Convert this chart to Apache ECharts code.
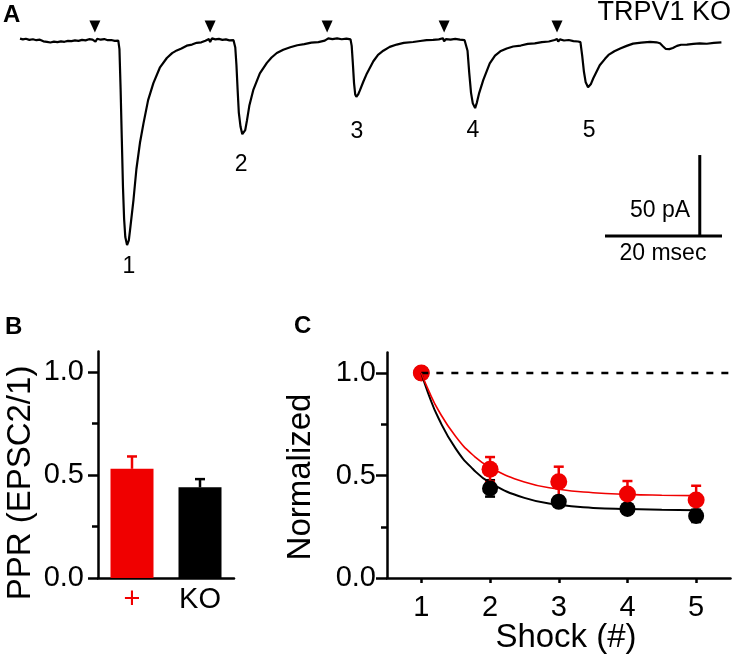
<!DOCTYPE html>
<html><head><meta charset="utf-8">
<script src="https://cdn.jsdelivr.net/npm/echarts@6/dist/echarts.min.js"></script>
<style>html,body{margin:0;padding:0;background:#fff}#c{width:734px;height:661px}</style>
</head><body><div id="c"></div>
<script>
// ---------- Panel A: EPSC trace (time in ms, current in pA) ----------
const trace = [
 [0,1.5],[0.5,1.0],[1.0,1.4],[1.6,0.7],[2.2,1.1],[2.8,0.5],[3.4,0.8],[4.0,-0.2],[4.6,-0.5],[5.2,-0.9],[5.8,-0.4],[6.4,-0.7],[7.0,-0.2],[7.6,-0.5],[8.2,0.1],[8.8,-0.1],[9.4,0.4],[10.0,0.1],[10.6,0.7],[11.2,0.4],[11.8,1.1],[12.4,0.9],[12.7,1.6],[12.9,-0.4],[13.2,1.4],[13.8,0.8],[14.4,1.2],[15.0,0.5],[15.6,0.6],[16.2,0.1],[16.8,0.2],
 [17.0,-5],[17.2,-30],[17.4,-60],[17.6,-90],[17.8,-110],[18.0,-121],[18.3,-126],[18.6,-123],[18.8,-117],[19.4,-98],[19.9,-79],[20.5,-63],[21.1,-51],[21.9,-36.5],[22.8,-26],[23.9,-16.5],[25.1,-10.5],[26.0,-7.5],[26.8,-5.8],[27.6,-4.6],[28.5,-2.9],[29.4,-2.2],[30.2,-1.1],[31.0,-0.8],[31.7,0.2],[32.3,1.2],[32.5,-0.6],[32.8,1.6],[33.4,1.0],[34.0,1.3],[34.6,0.7],[35.2,1.0],[35.8,0.4],[36.5,0.5],
 [36.8,-4],[37.0,-15],[37.2,-30],[37.4,-44],[37.7,-53],[38.0,-57.5],[38.2,-58.5],[38.5,-55],[38.8,-49],[39.2,-40],[39.9,-30],[41.0,-20],[42.2,-13.5],[43.0,-10.2],[43.9,-7.4],[45.0,-5.4],[46.2,-3.9],[47.4,-2.6],[48.6,-1.9],[49.8,-1.0],[51.0,-0.7],[52.1,0.2],[52.4,-1.0],[52.7,1.6],[53.4,1.2],[54.2,1.6],[55.0,1.1],[55.8,1.5],[56.5,1.0],
 [56.7,-3],[56.9,-14],[57.1,-26],[57.3,-33],[57.5,-34.5],[57.8,-33],[58.1,-30.5],[58.7,-25],[59.3,-20],[60.4,-12.5],[61.2,-8.5],[62.1,-6],[63.2,-3.6],[64.4,-2.2],[65.6,-1.2],[67.2,-0.6],[68.4,0.0],[69.5,0.5],[70.6,0.7],[71.6,1.0],[72.3,1.7],[72.5,-0.2],[72.8,1.2],[73.6,0.9],[74.4,1.3],[75.2,0.8],[76.0,0.5],[76.3,0.0],
 [76.5,-6],[76.8,-20],[77.1,-32],[77.4,-38.5],[77.8,-41.4],[78.1,-38],[78.5,-32],[79.2,-24],[80.3,-13.8],[81.2,-9],[82.1,-6.4],[83.2,-4.6],[84.3,-3.4],[85.6,-2.8],[86.8,-1.8],[88.0,-1.5],[89.2,-0.7],[90.4,-0.3],[91.4,0.6],[91.8,1.2],[92.0,-0.4],[92.3,1.0],[93.0,0.3],[93.8,0.6],[94.6,-0.1],[95.4,-0.3],[95.8,-0.7],
 [96.1,-9],[96.4,-19],[96.7,-25.5],[97.1,-28.5],[97.6,-26.5],[98.0,-23],[99.1,-15],[100.0,-11],[100.6,-8.6],[101.6,-6.3],[102.6,-4.6],[103.7,-3.0],[104.8,-1.6],[106.2,-1.0],[107.7,-0.5],[108.8,-0.8],[109.4,-1.4],[109.9,-3.2],[110.4,-4.9],[111.0,-5.0],[111.6,-4.3],[112.3,-3.0],[113.0,-2.3],[114.0,-2.2],[115.1,-1.8],[116.2,-1.5],[117.4,-1.7],[118.6,-1.2],[119.9,-0.9]
];
const stimTimes = [12.8, 32.5, 52.5, 72.5, 91.8];
const stimMarkLevel = 9.0;
const peakNames = ['1','2','3','4','5'];
const peakLabelPos = [[18.6,-139],[37.8,-76.5],[57.6,-56],[77.4,-55.5],[97.3,-55.5]];
const scaleBarOrigin = [100, -120.4];   // left end of the time bar
const scaleBarTime = 20;                // ms
const scaleBarCurrent = 50;             // pA
const scaleBarVertT = 116.2;
const scaleLabels = [['50 pA',[109.4,-104.6]],['20 msec',[109.9,-131.5]]];

// ---------- Panel B: PPR bars ----------
const pprCategories = ['+','KO'];
const pprMean = [0.53, 0.44];
const pprSem = [0.06, 0.04];
const pprTicks = [0, 0.5, 1.0];
const pprMinorTicks = [0.25, 0.75];

// ---------- Panel C: normalized EPSC vs shock ----------
const shocks = [1,2,3,4,5];
const wtMean = [1.0, 0.53, 0.47, 0.41, 0.38];
const wtSem  = [0, 0.06, 0.073, 0.063, 0.07];
const koMean = [1.0, 0.437, 0.372, 0.337, 0.303];
const koSem  = [0, 0.04, 0.02, 0.02, 0.03];
const fitX  = [1, 1.1, 1.25, 1.5, 1.75, 2, 2.5, 3, 3.5, 4, 4.5, 5];
const wtFit = [1.0, 0.919, 0.817, 0.69, 0.60, 0.54, 0.468, 0.433, 0.416, 0.408, 0.404, 0.402];
const koFit = [1.0, 0.901, 0.779, 0.631, 0.532, 0.465, 0.391, 0.357, 0.342, 0.336, 0.333, 0.331];
const normTicks = [0, 0.5, 1.0];
const normMinorTicks = [0.25, 0.75];

const RED = '#f00000';
const F = "'Liberation Sans', Arial, Helvetica, sans-serif";
const AX = {color:'#000', width:2.5};

function errRender(color, capHalf, twoSided) {
  return function (params, api) {
    const x = api.value(0), m = api.value(1), s = api.value(2);
    const top = api.coord([x, m + s]);
    const bot = api.coord([x, twoSided ? m - s : m]);
    const st = {stroke: color, lineWidth: 2.5};
    const ch = [
      {type:'line', shape:{x1:top[0], y1:top[1], x2:bot[0], y2:bot[1]}, style:st},
      {type:'line', shape:{x1:top[0]-capHalf, y1:top[1], x2:top[0]+capHalf, y2:top[1]}, style:st}
    ];
    if (twoSided) ch.push({type:'line', shape:{x1:bot[0]-capHalf, y1:bot[1], x2:bot[0]+capHalf, y2:bot[1]}, style:st});
    return {type:'group', children: ch};
  };
}

const chart = echarts.init(document.getElementById('c'), null, {renderer:'canvas'});
const option = {
  animation:false,
  backgroundColor:'#fff',
  grid:[
    {left:20, top:8.6, width:702, height:275.4},
    {left:98, top:351.4, width:136, height:226.6},
    {left:387, top:352.5, width:343.5, height:225.5}
  ],
  xAxis:[
    {gridIndex:0, type:'value', min:0, max:120, show:false},
    {gridIndex:1, type:'category',
     data: pprCategories.map((c,i)=> i===0 ? {value:c, textStyle:{color:RED}} : c),
     axisLine:{lineStyle:AX}, axisTick:{show:false},
     axisLabel:{fontSize:29, fontFamily:F, color:'#000', margin:7}},
    {gridIndex:2, type:'value', min:0.5, max:5.5, splitLine:{show:false},
     axisLine:{onZero:false, lineStyle:AX},
     axisTick:{customValues:shocks, length:5, lineStyle:AX},
     axisLabel:{customValues:shocks, fontSize:29, fontFamily:F, color:'#000', margin:15}}
  ],
  yAxis:[
    {gridIndex:0, type:'value', min:-150, max:20, show:false},
    {gridIndex:1, type:'value', min:0, max:1.1, position:'left', splitLine:{show:false},
     axisLine:{show:true, lineStyle:AX},
     axisTick:{show:true, customValues:pprTicks, length:10, lineStyle:AX},
     axisLabel:{customValues:pprTicks, fontSize:29, fontFamily:F, color:'#000', margin:14, formatter:v=>v.toFixed(1)}},
    {gridIndex:1, type:'value', min:0, max:1.1, position:'left', offset:0, splitLine:{show:false},
     axisLine:{show:false},
     axisTick:{show:true, customValues:pprMinorTicks, length:6, lineStyle:AX},
     axisLabel:{show:false}},
    {gridIndex:2, type:'value', min:0, max:1.1, position:'left', splitLine:{show:false},
     axisLine:{show:true, lineStyle:AX},
     axisTick:{show:true, customValues:normTicks, length:11, lineStyle:AX},
     axisLabel:{customValues:normTicks, fontSize:29, fontFamily:F, color:'#000', margin:11, formatter:v=>v.toFixed(1)}},
    {gridIndex:2, type:'value', min:0, max:1.1, position:'left', offset:0, splitLine:{show:false},
     axisLine:{show:false},
     axisTick:{show:true, customValues:normMinorTicks, length:6, lineStyle:AX},
     axisLabel:{show:false}}
  ],
  series:[
    // Panel A
    {type:'line', xAxisIndex:0, yAxisIndex:0, data:trace, showSymbol:false, symbol:'none',
     lineStyle:{color:'#000', width:2.2}, clip:false},
    {type:'scatter', xAxisIndex:0, yAxisIndex:0, data:stimTimes.map(t=>[t, stimMarkLevel]),
     symbol:'triangle', symbolRotate:180, symbolSize:[11,12], itemStyle:{color:'#000', opacity:1}},
    {type:'line', xAxisIndex:0, yAxisIndex:0, symbol:'none', clip:false,
     data:[scaleBarOrigin, [scaleBarOrigin[0]+scaleBarTime, scaleBarOrigin[1]]],
     lineStyle:{color:'#000', width:3, cap:'butt'}},
    {type:'line', xAxisIndex:0, yAxisIndex:0, symbol:'none', clip:false,
     data:[[scaleBarVertT, scaleBarOrigin[1]], [scaleBarVertT, scaleBarOrigin[1]+scaleBarCurrent]],
     lineStyle:{color:'#000', width:3, cap:'butt'}},
    {type:'scatter', xAxisIndex:0, yAxisIndex:0, clip:false, symbolSize:1, itemStyle:{color:'rgba(0,0,0,0)', opacity:1},
     data: peakLabelPos.map((p,i)=>({value:p, name:peakNames[i]})).concat(scaleLabels.map(s=>({value:s[1], name:s[0]}))),
     label:{show:true, position:'inside', formatter:p=>p.name, color:'#000', opacity:1, fontFamily:F,
            fontSize:23, align:'center', verticalAlign:'middle', textBorderWidth:0}},
    // Panel B
    {type:'bar', xAxisIndex:1, yAxisIndex:1, barWidth:43,
     data: pprMean.map((v,i)=>({value:v, itemStyle:{color: i===0 ? RED : '#000'}}))},
    {type:'custom', xAxisIndex:1, yAxisIndex:1, data: pprMean.map((v,i)=>[i, v, pprSem[i]]),
     renderItem: function(params, api){ return errRender(params.dataIndex===0 ? RED : '#000', 5, false)(params, api); }},
    // Panel C
    {type:'line', xAxisIndex:2, yAxisIndex:3, symbol:'none', data:[[1,1],[5.5,1]],
     lineStyle:{color:'#000', width:2.5, type:[7,8]}},
    {type:'line', xAxisIndex:2, yAxisIndex:3, symbol:'none', smooth:true, data: fitX.map((x,i)=>[x, koFit[i]]),
     lineStyle:{color:'#000', width:2}},
    {type:'custom', xAxisIndex:2, yAxisIndex:3, data: shocks.map((s,i)=>[s, koMean[i], koSem[i]]).filter(d=>d[2]>0),
     renderItem: errRender('#000', 5, true)},
    {type:'scatter', xAxisIndex:2, yAxisIndex:3, data: shocks.map((s,i)=>[s, koMean[i]]), symbolSize:16,
     itemStyle:{color:'#000', opacity:1}},
    {type:'line', xAxisIndex:2, yAxisIndex:3, symbol:'none', smooth:true, data: fitX.map((x,i)=>[x, wtFit[i]]),
     lineStyle:{color:RED, width:1.6}},
    {type:'custom', xAxisIndex:2, yAxisIndex:3, data: shocks.map((s,i)=>[s, wtMean[i], wtSem[i]]).filter(d=>d[2]>0),
     renderItem: errRender(RED, 5, true)},
    {type:'scatter', xAxisIndex:2, yAxisIndex:3, data: shocks.map((s,i)=>[s, wtMean[i]]), symbolSize:17,
     itemStyle:{color:RED, opacity:1}}
  ],
  graphic:[
    {type:'text', x:3, y:15, style:{text:'A', font:"bold 24px "+F, fill:'#000', align:'left', verticalAlign:'middle', textAlign:'left', textVerticalAlign:'middle'}},
    {type:'text', x:5, y:327, style:{text:'B', font:"bold 24px "+F, fill:'#000', align:'left', verticalAlign:'middle', textAlign:'left', textVerticalAlign:'middle'}},
    {type:'text', x:294, y:326, style:{text:'C', font:"bold 24px "+F, fill:'#000', align:'left', verticalAlign:'middle', textAlign:'left', textVerticalAlign:'middle'}},
    {type:'text', x:731, y:13, style:{text:'TRPV1 KO', font:"27px "+F, fill:'#000', align:'right', verticalAlign:'middle', textAlign:'right', textVerticalAlign:'middle'}},
    {type:'text', x:21, y:483, rotation:Math.PI/2, style:{text:'PPR (EPSC2/1)', font:"33px "+F, fill:'#000', align:'center', verticalAlign:'middle', textAlign:'center', textVerticalAlign:'middle'}},
    {type:'text', x:301, y:477, rotation:Math.PI/2, style:{text:'Normalized', font:"33px "+F, fill:'#000', align:'center', verticalAlign:'middle', textAlign:'center', textVerticalAlign:'middle'}},
    {type:'text', x:566, y:638, style:{text:'Shock (#)', font:"33px "+F, fill:'#000', align:'center', verticalAlign:'middle', textAlign:'center', textVerticalAlign:'middle'}}
  ]
};
chart.setOption(option);
</script>
</body></html>
